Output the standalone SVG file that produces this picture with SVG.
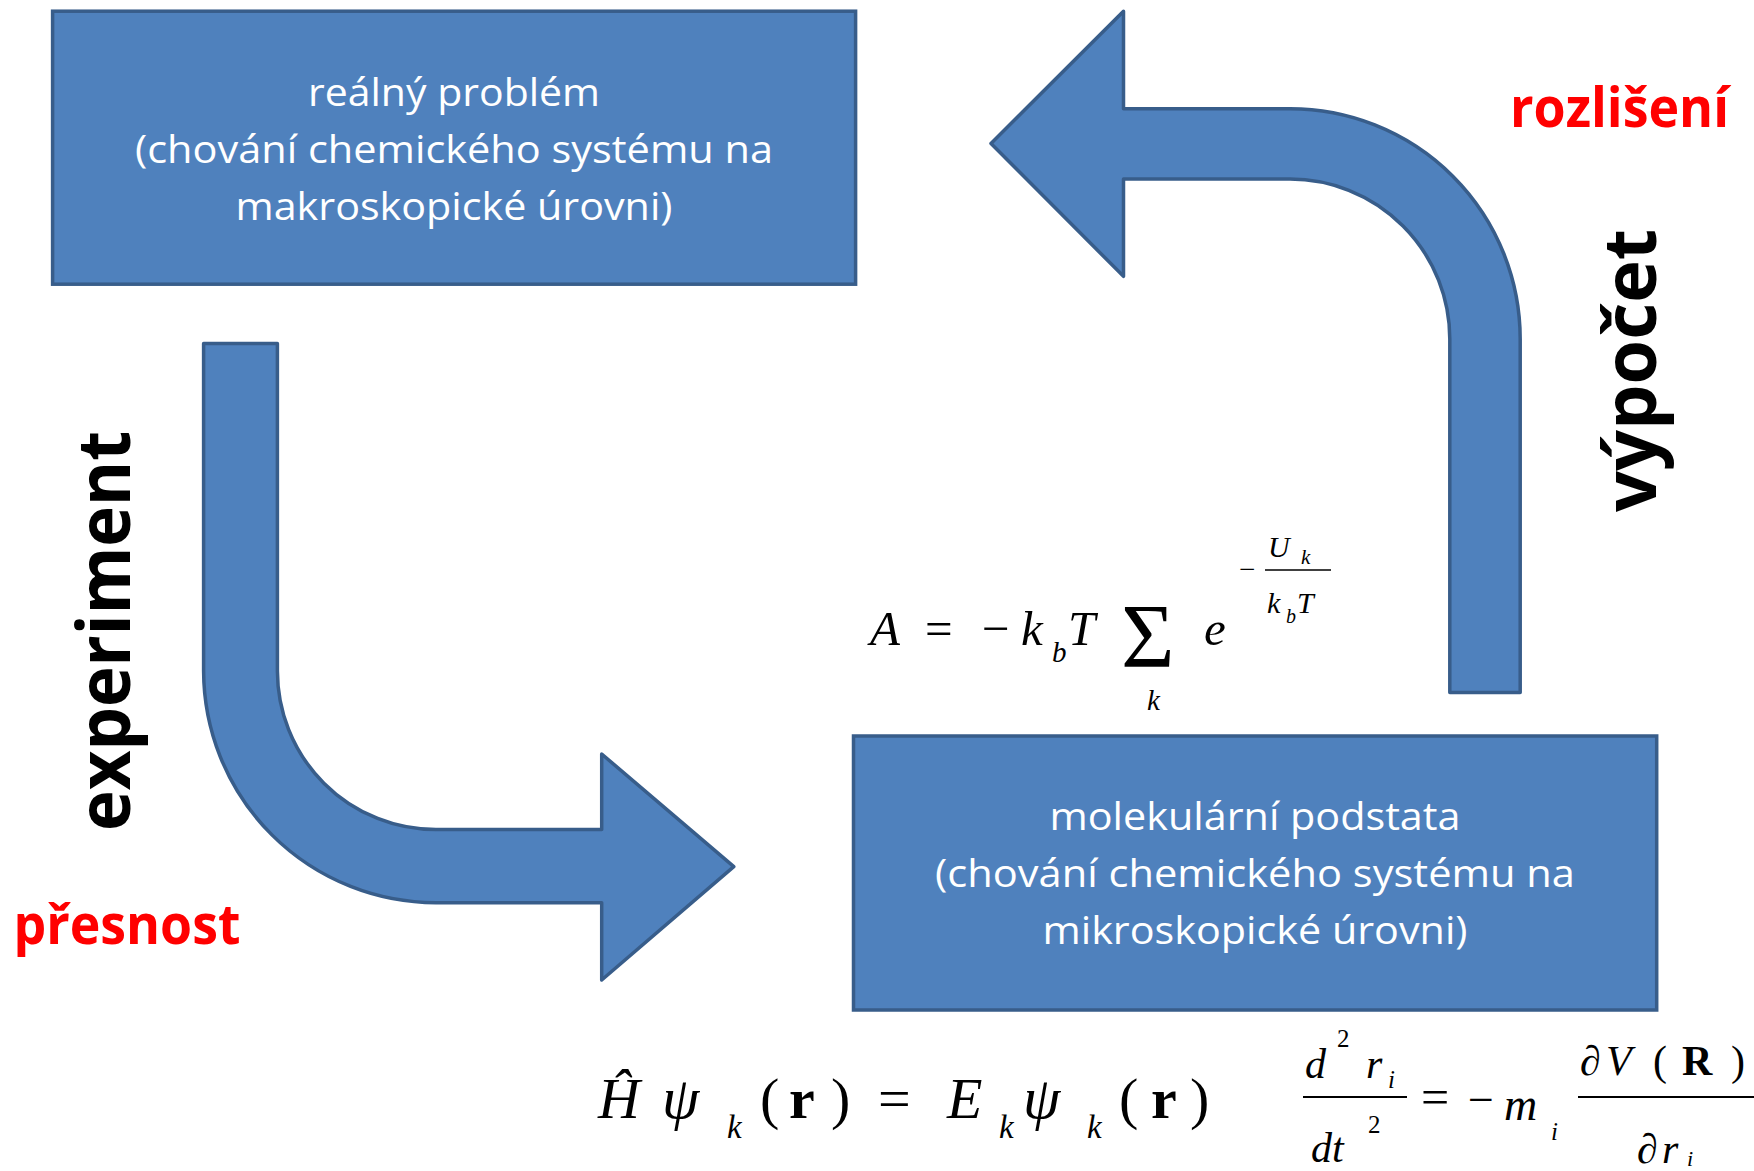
<svg xmlns="http://www.w3.org/2000/svg" width="1754" height="1171" viewBox="0 0 1754 1171">
<style>
.box{fill:#4F81BD;stroke:#385D8A;stroke-width:3.5}
.arrow{fill:#4F81BD;stroke:#385D8A;stroke-width:3.5;stroke-linejoin:round}
.bt{font-family:"Open Sans","Noto Sans",sans-serif;font-size:39px;fill:#fff;text-anchor:middle}
.lbl{font-family:"Open Sans","Noto Sans",sans-serif;font-weight:700}
.m{font-family:"Liberation Serif","Times New Roman",serif;fill:#000}
.it{font-style:italic}
.bf{font-weight:700}
</style>
<rect width="1754" height="1171" fill="#fff"/>
<g id="connectors">
<path id="arrow-experiment" class="arrow" d="M203.6 343.4 L277.4 343.4 L277.4 671 A158.6 158.6 0 0 0 436 829.6 L601.7 829.6 L601.7 754 L733.8 866.7 L601.7 980 L601.7 902.7 L436 902.7 A232.4 232.4 0 0 1 203.6 671 Z"/>
<path id="arrow-vypocet" class="arrow" d="M1449.8 692.4 L1520.2 692.4 L1520.2 339 A230.2 230.2 0 0 0 1290 108.8 L1123.5 108.8 L1123.5 11.2 L991 143.5 L1123.5 276.3 L1123.5 179 L1290 179 A160 160 0 0 1 1449.8 339 Z"/>
</g>
<g id="node-realny-problem">
<rect class="box" x="52.6" y="11.2" width="803" height="273"/>
<text class="bt" x="454" y="106" textLength="292" lengthAdjust="spacingAndGlyphs">reálný problém</text>
<text class="bt" x="454" y="163" textLength="638" lengthAdjust="spacingAndGlyphs">(chování chemického systému na</text>
<text class="bt" x="454" y="220" textLength="437" lengthAdjust="spacingAndGlyphs">makroskopické úrovni)</text>
</g>
<g id="node-molekularni-podstata">
<rect class="box" x="853.5" y="736" width="803.2" height="274"/>
<text class="bt" x="1255" y="830" textLength="411" lengthAdjust="spacingAndGlyphs">molekulární podstata</text>
<text class="bt" x="1255" y="887" textLength="640" lengthAdjust="spacingAndGlyphs">(chování chemického systému na</text>
<text class="bt" x="1255" y="944" textLength="425" lengthAdjust="spacingAndGlyphs">mikroskopické úrovni)</text>
</g>
<g id="labels">
<text class="lbl" font-size="73" text-anchor="middle" transform="translate(130,631) rotate(-90)" textLength="400" lengthAdjust="spacingAndGlyphs">experiment</text>
<text class="lbl" font-size="73" text-anchor="middle" transform="translate(1656,370.5) rotate(-90)" textLength="283" lengthAdjust="spacingAndGlyphs">výpočet</text>
<text class="lbl" font-size="56" fill="#FF0000" x="1510" y="126.5" textLength="219" lengthAdjust="spacingAndGlyphs">rozlišení</text>
<text class="lbl" font-size="56" fill="#FF0000" x="13.4" y="944" textLength="227" lengthAdjust="spacingAndGlyphs">přesnost</text>
</g>
<g id="eq-free-energy">
<text class="m it" x="870" y="645" font-size="49">A</text>
<text class="m" x="925" y="645" font-size="49">=</text>
<text class="m" x="982" y="645" font-size="49">−</text>
<text class="m it" x="1021" y="645" font-size="49">k</text>
<text class="m it" x="1052" y="661.7" font-size="29">b</text>
<text class="m it" x="1068" y="645" font-size="49">T</text>
<text class="m" x="1121" y="667" font-size="92">Σ</text>
<text class="m it" x="1147" y="710" font-size="29">k</text>
<text class="m it" x="1204" y="645" font-size="49">e</text>
<text class="m" x="1239" y="579" font-size="29">−</text>
<text class="m it" x="1268" y="557" font-size="30">U</text>
<text class="m it" x="1301" y="564" font-size="21">k</text>
<line x1="1265" y1="570" x2="1331" y2="570" stroke="#000" stroke-width="1.3"/>
<text class="m it" x="1267" y="613" font-size="30">k</text>
<text class="m it" x="1286" y="623" font-size="20">b</text>
<text class="m it" x="1297" y="613" font-size="30">T</text>
</g>
<g id="eq-schrodinger">
<text class="m it" x="598" y="1118" font-size="58">Ĥ</text>
<text class="m it" x="662" y="1118" font-size="60">ψ</text>
<text class="m it" x="727" y="1138" font-size="33">k</text>
<text class="m" x="760" y="1118" font-size="58">(</text>
<text class="m bf" x="789" y="1118" font-size="58">r</text>
<text class="m" x="831" y="1118" font-size="58">)</text>
<text class="m" x="878" y="1118" font-size="58">=</text>
<text class="m it" x="947" y="1118" font-size="58">E</text>
<text class="m it" x="999" y="1138" font-size="33">k</text>
<text class="m it" x="1023" y="1118" font-size="60">ψ</text>
<text class="m it" x="1087" y="1138" font-size="33">k</text>
<text class="m" x="1119" y="1118" font-size="58">(</text>
<text class="m bf" x="1151" y="1118" font-size="58">r</text>
<text class="m" x="1190" y="1118" font-size="58">)</text>
</g>
<g id="eq-newton">
<text class="m it" x="1305" y="1078" font-size="42">d</text>
<text class="m" x="1337" y="1047" font-size="25">2</text>
<text class="m it" x="1366" y="1078" font-size="42">r</text>
<text class="m it" x="1388" y="1088" font-size="25">i</text>
<line x1="1303" y1="1097" x2="1407" y2="1097" stroke="#000" stroke-width="1.8"/>
<text class="m it" x="1311" y="1162" font-size="42">dt</text>
<text class="m" x="1368" y="1133" font-size="25">2</text>
<text class="m" x="1421" y="1114" font-size="50">=</text>
<text class="m" x="1468" y="1115" font-size="46">−</text>
<text class="m it" x="1504" y="1120" font-size="46">m</text>
<text class="m it" x="1551" y="1140" font-size="25">i</text>
<line x1="1578" y1="1097" x2="1754" y2="1097" stroke="#000" stroke-width="1.8"/>
<text class="m" x="1580" y="1075" font-size="42">∂</text>
<text class="m it" x="1606" y="1075" font-size="42">V</text>
<text class="m" x="1653" y="1075" font-size="42">(</text>
<text class="m bf" x="1682" y="1075" font-size="42">R</text>
<text class="m" x="1731" y="1075" font-size="42">)</text>
<text class="m" x="1637" y="1163" font-size="42">∂</text>
<text class="m it" x="1662" y="1163" font-size="42">r</text>
<text class="m it" x="1687" y="1166" font-size="22">i</text>
</g>
</svg>
